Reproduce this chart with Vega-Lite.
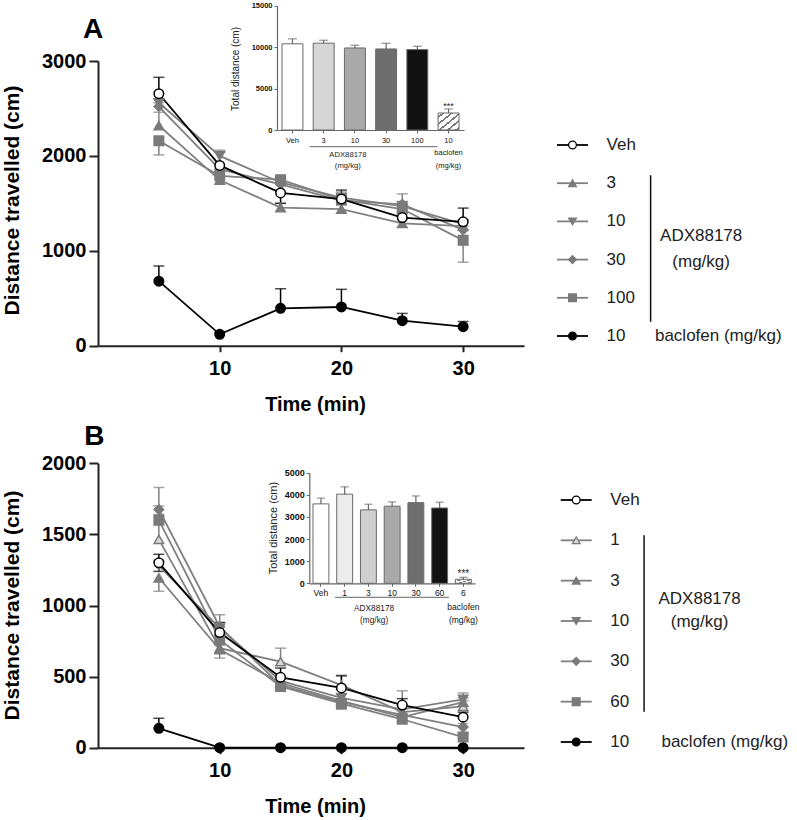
{
"$schema":"https://vega.github.io/schema/vega-lite/v6.json",
"width":797,"height":820,"autosize":{"type":"none"},"padding":0,"background":"#ffffff",
"config":{"view":{"stroke":null},"font":"Liberation Sans","axis":{"grid":false}},
"datasets":{
"mainA":[
{"t":5,"s":"3","m":2320,"lo":2320,"hi":2460},{"t":10,"s":"3","m":1745,"lo":1745,"hi":1790},{"t":15,"s":"3","m":1455,"lo":1455,"hi":1500},{"t":20,"s":"3","m":1440,"lo":1440,"hi":1480},{"t":25,"s":"3","m":1290,"lo":1290,"hi":1330},{"t":30,"s":"3","m":1260,"lo":1260,"hi":1300},
{"t":5,"s":"10","m":2560,"lo":2560,"hi":2600},{"t":10,"s":"10","m":2000,"lo":2000,"hi":2060},{"t":15,"s":"10","m":1720,"lo":1720,"hi":1760},{"t":20,"s":"10","m":1560,"lo":1560,"hi":1620},{"t":25,"s":"10","m":1470,"lo":1470,"hi":1520},{"t":30,"s":"10","m":1280,"lo":1280,"hi":1320},
{"t":5,"s":"30","m":2520,"lo":2520,"hi":2560},{"t":10,"s":"30","m":1860,"lo":1860,"hi":1900},{"t":15,"s":"30","m":1700,"lo":1700,"hi":1740},{"t":20,"s":"30","m":1530,"lo":1530,"hi":1570},{"t":25,"s":"30","m":1490,"lo":1490,"hi":1600},{"t":30,"s":"30","m":1220,"lo":1220,"hi":1260},
{"t":5,"s":"100","m":2160,"lo":2010,"hi":2160},{"t":10,"s":"100","m":1790,"lo":1790,"hi":1830},{"t":15,"s":"100","m":1750,"lo":1750,"hi":1780},{"t":20,"s":"100","m":1540,"lo":1540,"hi":1580},{"t":25,"s":"100","m":1440,"lo":1440,"hi":1480},{"t":30,"s":"100","m":1110,"lo":880,"hi":1110},
{"t":5,"s":"Veh","m":2655,"lo":2655,"hi":2828},{"t":10,"s":"Veh","m":1900,"lo":1900,"hi":2040},{"t":15,"s":"Veh","m":1610,"lo":1500,"hi":1610},{"t":20,"s":"Veh","m":1545,"lo":1545,"hi":1640},{"t":25,"s":"Veh","m":1350,"lo":1350,"hi":1400},{"t":30,"s":"Veh","m":1305,"lo":1305,"hi":1450},
{"t":5,"s":"bac","m":680,"lo":680,"hi":840},{"t":10,"s":"bac","m":120,"lo":120,"hi":140},{"t":15,"s":"bac","m":394,"lo":394,"hi":600},{"t":20,"s":"bac","m":408,"lo":408,"hi":594},{"t":25,"s":"bac","m":264,"lo":264,"hi":340},{"t":30,"s":"bac","m":200,"lo":200,"hi":255}
],
"mainB":[
{"t":5,"s":"1","m":1465,"lo":1465,"hi":1830},{"t":10,"s":"1","m":700,"lo":630,"hi":700},{"t":15,"s":"1","m":605,"lo":605,"hi":700},{"t":20,"s":"1","m":440,"lo":440,"hi":510},{"t":25,"s":"1","m":250,"lo":250,"hi":400},{"t":30,"s":"1","m":290,"lo":290,"hi":330},
{"t":5,"s":"3","m":1195,"lo":1100,"hi":1195},{"t":10,"s":"3","m":690,"lo":690,"hi":720},{"t":15,"s":"3","m":455,"lo":455,"hi":480},{"t":20,"s":"3","m":330,"lo":270,"hi":330},{"t":25,"s":"3","m":215,"lo":215,"hi":240},{"t":30,"s":"3","m":320,"lo":320,"hi":350},
{"t":5,"s":"10","m":1280,"lo":1280,"hi":1320},{"t":10,"s":"10","m":840,"lo":840,"hi":935},{"t":15,"s":"10","m":470,"lo":470,"hi":500},{"t":20,"s":"10","m":350,"lo":350,"hi":380},{"t":25,"s":"10","m":270,"lo":270,"hi":300},{"t":30,"s":"10","m":340,"lo":340,"hi":385},
{"t":5,"s":"30","m":1675,"lo":1675,"hi":1700},{"t":10,"s":"30","m":850,"lo":850,"hi":880},{"t":15,"s":"30","m":440,"lo":440,"hi":460},{"t":20,"s":"30","m":320,"lo":320,"hi":345},{"t":25,"s":"30","m":230,"lo":230,"hi":255},{"t":30,"s":"30","m":145,"lo":145,"hi":170},
{"t":5,"s":"60","m":1600,"lo":1600,"hi":1640},{"t":10,"s":"60","m":760,"lo":760,"hi":790},{"t":15,"s":"60","m":430,"lo":430,"hi":450},{"t":20,"s":"60","m":310,"lo":310,"hi":330},{"t":25,"s":"60","m":200,"lo":200,"hi":225},{"t":30,"s":"60","m":75,"lo":75,"hi":100},
{"t":5,"s":"Veh","m":1300,"lo":1240,"hi":1360},{"t":10,"s":"Veh","m":810,"lo":810,"hi":880},{"t":15,"s":"Veh","m":495,"lo":495,"hi":560},{"t":20,"s":"Veh","m":420,"lo":420,"hi":505},{"t":25,"s":"Veh","m":300,"lo":300,"hi":345},{"t":30,"s":"Veh","m":215,"lo":215,"hi":250},
{"t":5,"s":"bac","m":136,"lo":136,"hi":207},{"t":10,"s":"bac","m":0,"lo":0,"hi":0},{"t":15,"s":"bac","m":0,"lo":0,"hi":0},{"t":20,"s":"bac","m":0,"lo":0,"hi":0},{"t":25,"s":"bac","m":0,"lo":0,"hi":0},{"t":30,"s":"bac","m":0,"lo":0,"hi":0}
],
"insA":[{"g":"Veh","m":10400,"hi":11000,"sig":""},{"g":"3","m":10480,"hi":10830,"sig":""},{"g":"10","m":9900,"hi":10230,"sig":""},{"g":"30","m":9780,"hi":10460,"sig":""},{"g":"100","m":9700,"hi":10100,"sig":""},{"g":"bac","m":2050,"hi":2540,"sig":"***"}],
"insB":[{"g":"Veh","m":3590,"hi":3850,"sig":""},{"g":"1","m":4030,"hi":4360,"sig":""},{"g":"3","m":3320,"hi":3575,"sig":""},{"g":"10","m":3485,"hi":3680,"sig":""},{"g":"30","m":3645,"hi":3950,"sig":""},{"g":"60","m":3405,"hi":3665,"sig":""},{"g":"bac","m":180,"hi":270,"sig":"***"}],
"legA":[{"key":"Veh","label":"Veh"},{"key":"3","label":"3"},{"key":"10","label":"10"},{"key":"30","label":"30"},{"key":"100","label":"100"},{"key":"bac","label":"10"}],
"legB":[{"key":"Veh","label":"Veh"},{"key":"1","label":"1"},{"key":"3","label":"3"},{"key":"10","label":"10"},{"key":"30","label":"30"},{"key":"60","label":"60"},{"key":"bac","label":"10"}]
},
"layer":[
{
"data":{"name":"mainA"},
"layer":[
{"mark":{"type":"rule","strokeWidth":1.5},
 "encoding":{
  "x":{"field":"t","type":"quantitative","title":"Time (min)","scale":{"domain":[0,35],"range":[98,524],"nice":false,"zero":false},
   "axis":{"orient":"bottom","offset":-474.3,"values":[10,20,30],"format":"d","labelFontSize":20,"labelFontWeight":"bold","labelColor":"#000","labelPadding":7,"labelFlush":false,"tickSize":6,"tickWidth":2,"tickColor":"#222","domainWidth":2,"domainColor":"#222","titleFontSize":20,"titleFontWeight":"bold","titleColor":"#000","titleX":315,"titleY":49,"titleBaseline":"top","titleAlign":"center"}},
  "y":{"field":"lo","type":"quantitative","title":"Distance travelled (cm)","scale":{"domain":[0,3000],"range":[345.7,61],"nice":false,"zero":false},
   "axis":{"orient":"left","offset":-98,"values":[0,1000,2000,3000],"format":"d","labelFontSize":20,"labelFontWeight":"bold","labelColor":"#000","labelPadding":3,"tickSize":9,"tickWidth":2,"tickColor":"#222","domainWidth":2,"domainColor":"#222","titleFontSize":21,"titleFontWeight":"bold","titleColor":"#000","titleX":-86,"titleY":200,"titleBaseline":"middle","titleAngle":-90,"titleAlign":"center"}},
  "y2":{"field":"hi"},
  "color":{"field":"s","type":"nominal","scale":{"domain":["3","10","30","100","Veh","bac"],"range":["#808080","#808080","#808080","#808080","#000000","#000000"]},"legend":null}
 }},
{"transform":[{"filter":"datum.hi > datum.m"}],
 "mark":{"type":"tick","orient":"horizontal","size":11,"thickness":1.5},
 "encoding":{"x":{"field":"t","type":"quantitative","title":"Time (min)"},"y":{"field":"hi","type":"quantitative","title":"Distance travelled (cm)"},"color":{"field":"s","type":"nominal","legend":null}}},
{"transform":[{"filter":"datum.lo < datum.m"}],
 "mark":{"type":"tick","orient":"horizontal","size":11,"thickness":1.5},
 "encoding":{"x":{"field":"t","type":"quantitative","title":"Time (min)"},"y":{"field":"lo","type":"quantitative","title":"Distance travelled (cm)"},"color":{"field":"s","type":"nominal","legend":null}}},
{"mark":{"type":"line","strokeWidth":1.8},
 "encoding":{"x":{"field":"t","type":"quantitative","title":"Time (min)"},"y":{"field":"m","type":"quantitative","title":"Distance travelled (cm)"},"color":{"field":"s","type":"nominal","legend":null}}},
{"mark":{"type":"point","filled":true,"opacity":1,"strokeWidth":1.5,"size":90},
 "encoding":{"x":{"field":"t","type":"quantitative","title":"Time (min)"},"y":{"field":"m","type":"quantitative","title":"Distance travelled (cm)"},
  "shape":{"field":"s","type":"nominal","scale":{"domain":["3","10","30","100","Veh","bac"],"range":["triangle-up","triangle-down","diamond","square","circle","circle"]},"legend":null},
  "fill":{"field":"s","type":"nominal","scale":{"domain":["3","10","30","100","Veh","bac"],"range":["#7a7a7a","#7a7a7a","#7a7a7a","#7a7a7a","#ffffff","#000000"]},"legend":null},
  "stroke":{"field":"s","type":"nominal","scale":{"domain":["3","10","30","100","Veh","bac"],"range":["#7a7a7a","#7a7a7a","#7a7a7a","#7a7a7a","#000000","#000000"]},"legend":null}}},
{"data":{"values":[{}]},
 "mark":{"type":"text","text":"A","fontSize":28,"fontWeight":"bold","align":"center","baseline":"alphabetic","color":"#000"},
 "encoding":{"x":{"datum":-0.4,"type":"quantitative","title":"Time (min)"},"y":{"datum":3242,"type":"quantitative","title":"Distance travelled (cm)"}}}
]
},
{
"data":{"name":"insA"},
"layer":[
{"transform":[{"filter":"datum.g != 'bac'"}],
 "mark":{"type":"bar","stroke":"#6a6a6a","strokeWidth":1},
 "encoding":{
  "x":{"field":"g","type":"nominal","title":null,"sort":null,"scale":{"domain":["Veh","3","10","30","100","bac"],"range":[277,464],"paddingInner":0.33,"paddingOuter":0.16},
   "axis":{"orient":"bottom","offset":-690,"title":null,"labelAngle":0,"labelFontSize":7.5,"labelColor":"#111","labelPadding":3,"labelLineHeight":12.5,"labelExpr":"datum.value == 'bac' ? ['10','baclofen','(mg/kg)'] : datum.value","tickSize":3,"tickColor":"#666","domainColor":"#666","domainWidth":1.2}},
  "y":{"field":"m","type":"quantitative","stack":null,"title":"Total distance  (cm)","scale":{"domain":[0,15000],"range":[130,5.7],"nice":false,"zero":false},
   "axis":{"orient":"left","offset":-277,"values":[0,5000,10000,15000],"format":"d","labelFontSize":7.5,"labelFontWeight":"bold","labelColor":"#111","labelPadding":2,"tickSize":3,"tickColor":"#666","domainColor":"#666","domainWidth":1.2,"titleFontSize":10,"titleFontWeight":"normal","titleColor":"#222","titleX":-42,"titleY":68.5,"titleBaseline":"middle","titleAngle":-90,"titleAlign":"center"}},
  "fill":{"field":"g","type":"nominal","scale":{"domain":["Veh","3","10","30","100"],"range":["#ffffff","#d6d6d6","#a9a9a9","#6e6e6e","#111111"]},"legend":null}
 }},
{"transform":[{"filter":"datum.g == 'bac'"}],
 "mark":{"type":"bar","stroke":"#6a6a6a","strokeWidth":1,
  "fill":{"gradient":"linear","x1":0,"y1":0,"x2":1,"y2":1,"stops":[{"offset":0,"color":"#ffffff"},{"offset":0.1,"color":"#ffffff"},{"offset":0.1,"color":"#777777"},{"offset":0.16,"color":"#777777"},{"offset":0.16,"color":"#ffffff"},{"offset":0.3,"color":"#ffffff"},{"offset":0.3,"color":"#777777"},{"offset":0.36,"color":"#777777"},{"offset":0.36,"color":"#ffffff"},{"offset":0.5,"color":"#ffffff"},{"offset":0.5,"color":"#777777"},{"offset":0.56,"color":"#777777"},{"offset":0.56,"color":"#ffffff"},{"offset":0.7,"color":"#ffffff"},{"offset":0.7,"color":"#777777"},{"offset":0.76,"color":"#777777"},{"offset":0.76,"color":"#ffffff"},{"offset":0.9,"color":"#ffffff"},{"offset":0.9,"color":"#777777"},{"offset":0.96,"color":"#777777"},{"offset":0.96,"color":"#ffffff"},{"offset":1,"color":"#ffffff"}]}},
 "encoding":{"x":{"field":"g","type":"nominal","title":null},"y":{"field":"m","type":"quantitative","stack":null,"title":"Total distance  (cm)"}}},
{"mark":{"type":"rule","color":"#666","strokeWidth":1.2},
 "encoding":{"x":{"field":"g","type":"nominal","title":null},"y":{"field":"m","type":"quantitative","title":"Total distance  (cm)"},"y2":{"field":"hi"}}},
{"mark":{"type":"tick","orient":"horizontal","size":9,"thickness":1.2,"color":"#666"},
 "encoding":{"x":{"field":"g","type":"nominal","title":null},"y":{"field":"hi","type":"quantitative","title":"Total distance  (cm)"}}},
{"transform":[{"filter":"datum.sig == '***'"}],
 "mark":{"type":"text","fontSize":9,"baseline":"alphabetic","align":"center","color":"#222"},
 "encoding":{"x":{"field":"g","type":"nominal","title":null},"y":{"field":"hi","type":"quantitative","title":"Total distance  (cm)"},"text":{"field":"sig"}}},
{"data":{"values":[{}]},
 "mark":{"type":"rule","color":"#666","strokeWidth":1,"xOffset":-14,"x2Offset":20,"yOffset":16.7},
 "encoding":{"x":{"datum":"3","type":"nominal","title":null},"x2":{"datum":"100"},"y":{"datum":0,"type":"quantitative","title":"Total distance  (cm)"}}},
{"data":{"values":[{}]},
 "mark":{"type":"text","text":["ADX88178","(mg/kg)"],"fontSize":7.7,"lineHeight":10.7,"align":"center","baseline":"top","dx":-7,"dy":21,"color":"#222"},
 "encoding":{"x":{"datum":"10","type":"nominal","title":null},"y":{"datum":0,"type":"quantitative","title":"Total distance  (cm)"}}}
]
},
{
"data":{"name":"legA"},
"layer":[
{"mark":{"type":"rule","strokeWidth":1.8},
 "encoding":{"x":{"datum":0,"type":"quantitative","scale":{"domain":[0,1],"range":[557,588],"nice":false,"zero":false},"axis":null},"x2":{"datum":1},
  "y":{"field":"key","type":"nominal","scale":{"type":"point","domain":["Veh","3","10","30","100","bac"],"range":[145,336],"padding":0},"axis":null},
  "color":{"field":"key","type":"nominal","scale":{"domain":["Veh","3","10","30","100","bac"],"range":["#000000","#808080","#808080","#808080","#808080","#000000"]},"legend":null}}},
{"mark":{"type":"point","filled":true,"opacity":1,"strokeWidth":1.3,"size":60},
 "encoding":{"x":{"datum":0.5,"type":"quantitative"},"y":{"field":"key","type":"nominal"},
  "shape":{"field":"key","type":"nominal","scale":{"domain":["Veh","3","10","30","100","bac"],"range":["circle","triangle-up","triangle-down","diamond","square","circle"]},"legend":null},
  "fill":{"field":"key","type":"nominal","scale":{"domain":["Veh","3","10","30","100","bac"],"range":["#ffffff","#7a7a7a","#7a7a7a","#7a7a7a","#7a7a7a","#000000"]},"legend":null},
  "stroke":{"field":"key","type":"nominal","scale":{"domain":["Veh","3","10","30","100","bac"],"range":["#000000","#7a7a7a","#7a7a7a","#7a7a7a","#7a7a7a","#000000"]},"legend":null}}},
{"mark":{"type":"text","fontSize":17,"align":"left","baseline":"middle","color":"#222"},
 "encoding":{"x":{"datum":1.6,"type":"quantitative"},"y":{"field":"key","type":"nominal"},"text":{"field":"label"}}},
{"data":{"values":[{}]},
 "mark":{"type":"rule","color":"#111","strokeWidth":1.5,"yOffset":-8,"y2Offset":24},
 "encoding":{"x":{"datum":3.02,"type":"quantitative"},"y":{"datum":"3","type":"nominal"},"y2":{"datum":"100"}}},
{"data":{"values":[{}]},
 "mark":{"type":"text","text":"ADX88178","fontSize":17,"align":"center","baseline":"middle","dy":15,"color":"#222"},
 "encoding":{"x":{"datum":4.65,"type":"quantitative"},"y":{"datum":"10","type":"nominal"}}},
{"data":{"values":[{}]},
 "mark":{"type":"text","text":"(mg/kg)","fontSize":17,"align":"center","baseline":"middle","dy":2,"color":"#222"},
 "encoding":{"x":{"datum":4.65,"type":"quantitative"},"y":{"datum":"30","type":"nominal"}}},
{"data":{"values":[{}]},
 "mark":{"type":"text","text":"baclofen (mg/kg)","fontSize":17,"align":"left","baseline":"middle","color":"#222"},
 "encoding":{"x":{"datum":3.16,"type":"quantitative"},"y":{"datum":"bac","type":"nominal"}}}
]
},
{
"data":{"name":"mainB"},
"layer":[
{"mark":{"type":"rule","strokeWidth":1.5},
 "encoding":{
  "x":{"field":"t","type":"quantitative","title":"Time (min)","scale":{"domain":[0,35],"range":[98,524],"nice":false,"zero":false},
   "axis":{"orient":"bottom","offset":-72.3,"values":[10,20,30],"format":"d","labelFontSize":20,"labelFontWeight":"bold","labelColor":"#000","labelPadding":7,"labelFlush":false,"tickSize":6,"tickWidth":2,"tickColor":"#222","domainWidth":2,"domainColor":"#222","titleFontSize":20,"titleFontWeight":"bold","titleColor":"#000","titleX":315,"titleY":49,"titleBaseline":"top","titleAlign":"center"}},
  "y":{"field":"lo","type":"quantitative","title":"Distance travelled (cm)","scale":{"domain":[0,2000],"range":[747.7,463.3],"nice":false,"zero":false},
   "axis":{"orient":"left","offset":-98,"values":[0,500,1000,1500,2000],"format":"d","labelFontSize":20,"labelFontWeight":"bold","labelColor":"#000","labelPadding":3,"tickSize":9,"tickWidth":2,"tickColor":"#222","domainWidth":2,"domainColor":"#222","titleFontSize":21,"titleFontWeight":"bold","titleColor":"#000","titleX":-86,"titleY":605,"titleBaseline":"middle","titleAngle":-90,"titleAlign":"center"}},
  "y2":{"field":"hi"},
  "color":{"field":"s","type":"nominal","scale":{"domain":["1","3","10","30","60","Veh","bac"],"range":["#808080","#808080","#808080","#808080","#808080","#000000","#000000"]},"legend":null}
 }},
{"transform":[{"filter":"datum.hi > datum.m"}],
 "mark":{"type":"tick","orient":"horizontal","size":11,"thickness":1.5},
 "encoding":{"x":{"field":"t","type":"quantitative","title":"Time (min)"},"y":{"field":"hi","type":"quantitative","title":"Distance travelled (cm)"},"color":{"field":"s","type":"nominal","legend":null}}},
{"transform":[{"filter":"datum.lo < datum.m"}],
 "mark":{"type":"tick","orient":"horizontal","size":11,"thickness":1.5},
 "encoding":{"x":{"field":"t","type":"quantitative","title":"Time (min)"},"y":{"field":"lo","type":"quantitative","title":"Distance travelled (cm)"},"color":{"field":"s","type":"nominal","legend":null}}},
{"mark":{"type":"line","strokeWidth":1.8},
 "encoding":{"x":{"field":"t","type":"quantitative","title":"Time (min)"},"y":{"field":"m","type":"quantitative","title":"Distance travelled (cm)"},"color":{"field":"s","type":"nominal","legend":null}}},
{"mark":{"type":"point","filled":true,"opacity":1,"strokeWidth":1.5,"size":90},
 "encoding":{"x":{"field":"t","type":"quantitative","title":"Time (min)"},"y":{"field":"m","type":"quantitative","title":"Distance travelled (cm)"},
  "shape":{"field":"s","type":"nominal","scale":{"domain":["1","3","10","30","60","Veh","bac"],"range":["triangle-up","triangle-up","triangle-down","diamond","square","circle","circle"]},"legend":null},
  "fill":{"field":"s","type":"nominal","scale":{"domain":["1","3","10","30","60","Veh","bac"],"range":["#d9d9d9","#7a7a7a","#7a7a7a","#7a7a7a","#7a7a7a","#ffffff","#000000"]},"legend":null},
  "stroke":{"field":"s","type":"nominal","scale":{"domain":["1","3","10","30","60","Veh","bac"],"range":["#7a7a7a","#7a7a7a","#7a7a7a","#7a7a7a","#7a7a7a","#000000","#000000"]},"legend":null}}},
{"data":{"values":[{}]},
 "mark":{"type":"text","text":"B","fontSize":28,"fontWeight":"bold","align":"center","baseline":"alphabetic","color":"#000"},
 "encoding":{"x":{"datum":-0.3,"type":"quantitative","title":"Time (min)"},"y":{"datum":2129,"type":"quantitative","title":"Distance travelled (cm)"}}}
]
},
{
"data":{"name":"insB"},
"layer":[
{"transform":[{"filter":"datum.g != 'bac'"}],
 "mark":{"type":"bar","stroke":"#6a6a6a","strokeWidth":1},
 "encoding":{
  "x":{"field":"g","type":"nominal","title":null,"sort":null,"scale":{"domain":["Veh","1","3","10","30","60","bac"],"range":[309.3,475],"paddingInner":0.33,"paddingOuter":0.155},
   "axis":{"orient":"bottom","offset":-236.7,"title":null,"labelAngle":0,"labelFontSize":8.5,"labelColor":"#111","labelPadding":2,"labelLineHeight":13.8,"labelExpr":"datum.value == 'bac' ? ['6','baclofen','(mg/kg)'] : datum.value","tickSize":3,"tickColor":"#666","domainColor":"#666","domainWidth":1.2}},
  "y":{"field":"m","type":"quantitative","stack":null,"title":"Total distance  (cm)","scale":{"domain":[0,5000],"range":[583.3,472.7],"nice":false,"zero":false},
   "axis":{"orient":"left","offset":-309.3,"values":[0,1000,2000,3000,4000,5000],"format":"d","labelFontSize":9,"labelFontWeight":"bold","labelColor":"#111","labelPadding":2,"tickSize":3,"tickColor":"#666","domainColor":"#666","domainWidth":1.2,"titleFontSize":11,"titleFontWeight":"normal","titleColor":"#222","titleX":-35.8,"titleY":527.5,"titleBaseline":"middle","titleAngle":-90,"titleAlign":"center"}},
  "fill":{"field":"g","type":"nominal","scale":{"domain":["Veh","1","3","10","30","60"],"range":["#ffffff","#ececec","#cfcfcf","#a9a9a9","#6e6e6e","#111111"]},"legend":null}
 }},
{"transform":[{"filter":"datum.g == 'bac'"}],
 "mark":{"type":"bar","stroke":"#6a6a6a","strokeWidth":1,
  "fill":{"gradient":"linear","x1":0,"y1":0,"x2":1,"y2":1,"stops":[{"offset":0,"color":"#ffffff"},{"offset":0.2,"color":"#ffffff"},{"offset":0.2,"color":"#777777"},{"offset":0.3,"color":"#777777"},{"offset":0.3,"color":"#ffffff"},{"offset":0.5,"color":"#ffffff"},{"offset":0.5,"color":"#777777"},{"offset":0.6,"color":"#777777"},{"offset":0.6,"color":"#ffffff"},{"offset":0.8,"color":"#ffffff"},{"offset":0.8,"color":"#777777"},{"offset":0.9,"color":"#777777"},{"offset":0.9,"color":"#ffffff"},{"offset":1,"color":"#ffffff"}]}},
 "encoding":{"x":{"field":"g","type":"nominal","title":null},"y":{"field":"m","type":"quantitative","stack":null,"title":"Total distance  (cm)"}}},
{"mark":{"type":"rule","color":"#666","strokeWidth":1.2},
 "encoding":{"x":{"field":"g","type":"nominal","title":null},"y":{"field":"m","type":"quantitative","title":"Total distance  (cm)"},"y2":{"field":"hi"}}},
{"mark":{"type":"tick","orient":"horizontal","size":8,"thickness":1.2,"color":"#666"},
 "encoding":{"x":{"field":"g","type":"nominal","title":null},"y":{"field":"hi","type":"quantitative","title":"Total distance  (cm)"}}},
{"transform":[{"filter":"datum.sig == '***'"}],
 "mark":{"type":"text","fontSize":10,"baseline":"alphabetic","align":"center","color":"#222"},
 "encoding":{"x":{"field":"g","type":"nominal","title":null},"y":{"field":"hi","type":"quantitative","title":"Total distance  (cm)"},"text":{"field":"sig"}}},
{"data":{"values":[{}]},
 "mark":{"type":"rule","color":"#666","strokeWidth":1,"xOffset":-9.7,"x2Offset":9.3,"yOffset":14},
 "encoding":{"x":{"datum":"1","type":"nominal","title":null},"x2":{"datum":"60"},"y":{"datum":0,"type":"quantitative","title":"Total distance  (cm)"}}},
{"data":{"values":[{}]},
 "mark":{"type":"text","text":["ADX88178","(mg/kg)"],"fontSize":8.3,"lineHeight":11.7,"align":"center","baseline":"top","dx":5.7,"dy":21,"color":"#222"},
 "encoding":{"x":{"datum":"3","type":"nominal","title":null},"y":{"datum":0,"type":"quantitative","title":"Total distance  (cm)"}}}
]
},
{
"data":{"name":"legB"},
"layer":[
{"mark":{"type":"rule","strokeWidth":1.8},
 "encoding":{"x":{"datum":0,"type":"quantitative","scale":{"domain":[0,1],"range":[560.7,591.7],"nice":false,"zero":false},"axis":null},"x2":{"datum":1},
  "y":{"field":"key","type":"nominal","scale":{"type":"point","domain":["Veh","1","3","10","30","60","bac"],"range":[500,742],"padding":0},"axis":null},
  "color":{"field":"key","type":"nominal","scale":{"domain":["Veh","1","3","10","30","60","bac"],"range":["#000000","#808080","#808080","#808080","#808080","#808080","#000000"]},"legend":null}}},
{"mark":{"type":"point","filled":true,"opacity":1,"strokeWidth":1.3,"size":60},
 "encoding":{"x":{"datum":0.5,"type":"quantitative"},"y":{"field":"key","type":"nominal"},
  "shape":{"field":"key","type":"nominal","scale":{"domain":["Veh","1","3","10","30","60","bac"],"range":["circle","triangle-up","triangle-up","triangle-down","diamond","square","circle"]},"legend":null},
  "fill":{"field":"key","type":"nominal","scale":{"domain":["Veh","1","3","10","30","60","bac"],"range":["#ffffff","#d9d9d9","#7a7a7a","#7a7a7a","#7a7a7a","#7a7a7a","#000000"]},"legend":null},
  "stroke":{"field":"key","type":"nominal","scale":{"domain":["Veh","1","3","10","30","60","bac"],"range":["#000000","#7a7a7a","#7a7a7a","#7a7a7a","#7a7a7a","#7a7a7a","#000000"]},"legend":null}}},
{"mark":{"type":"text","fontSize":17,"align":"left","baseline":"middle","color":"#222"},
 "encoding":{"x":{"datum":1.6,"type":"quantitative"},"y":{"field":"key","type":"nominal"},"text":{"field":"label"}}},
{"data":{"values":[{}]},
 "mark":{"type":"rule","color":"#111","strokeWidth":1.5,"yOffset":-5,"y2Offset":10},
 "encoding":{"x":{"datum":2.69,"type":"quantitative"},"y":{"datum":"1","type":"nominal"},"y2":{"datum":"60"}}},
{"data":{"values":[{}]},
 "mark":{"type":"text","text":"ADX88178","fontSize":17,"align":"center","baseline":"middle","dy":18,"color":"#222"},
 "encoding":{"x":{"datum":4.48,"type":"quantitative"},"y":{"datum":"3","type":"nominal"}}},
{"data":{"values":[{}]},
 "mark":{"type":"text","text":"(mg/kg)","fontSize":17,"align":"center","baseline":"middle","dy":1,"color":"#222"},
 "encoding":{"x":{"datum":4.48,"type":"quantitative"},"y":{"datum":"10","type":"nominal"}}},
{"data":{"values":[{}]},
 "mark":{"type":"text","text":"baclofen (mg/kg)","fontSize":17,"align":"left","baseline":"middle","color":"#222"},
 "encoding":{"x":{"datum":3.25,"type":"quantitative"},"y":{"datum":"bac","type":"nominal"}}}
]
}
],
"resolve":{"scale":{"x":"independent","y":"independent","color":"independent","fill":"independent","stroke":"independent","shape":"independent"},"axis":{"x":"independent","y":"independent"}}
}
